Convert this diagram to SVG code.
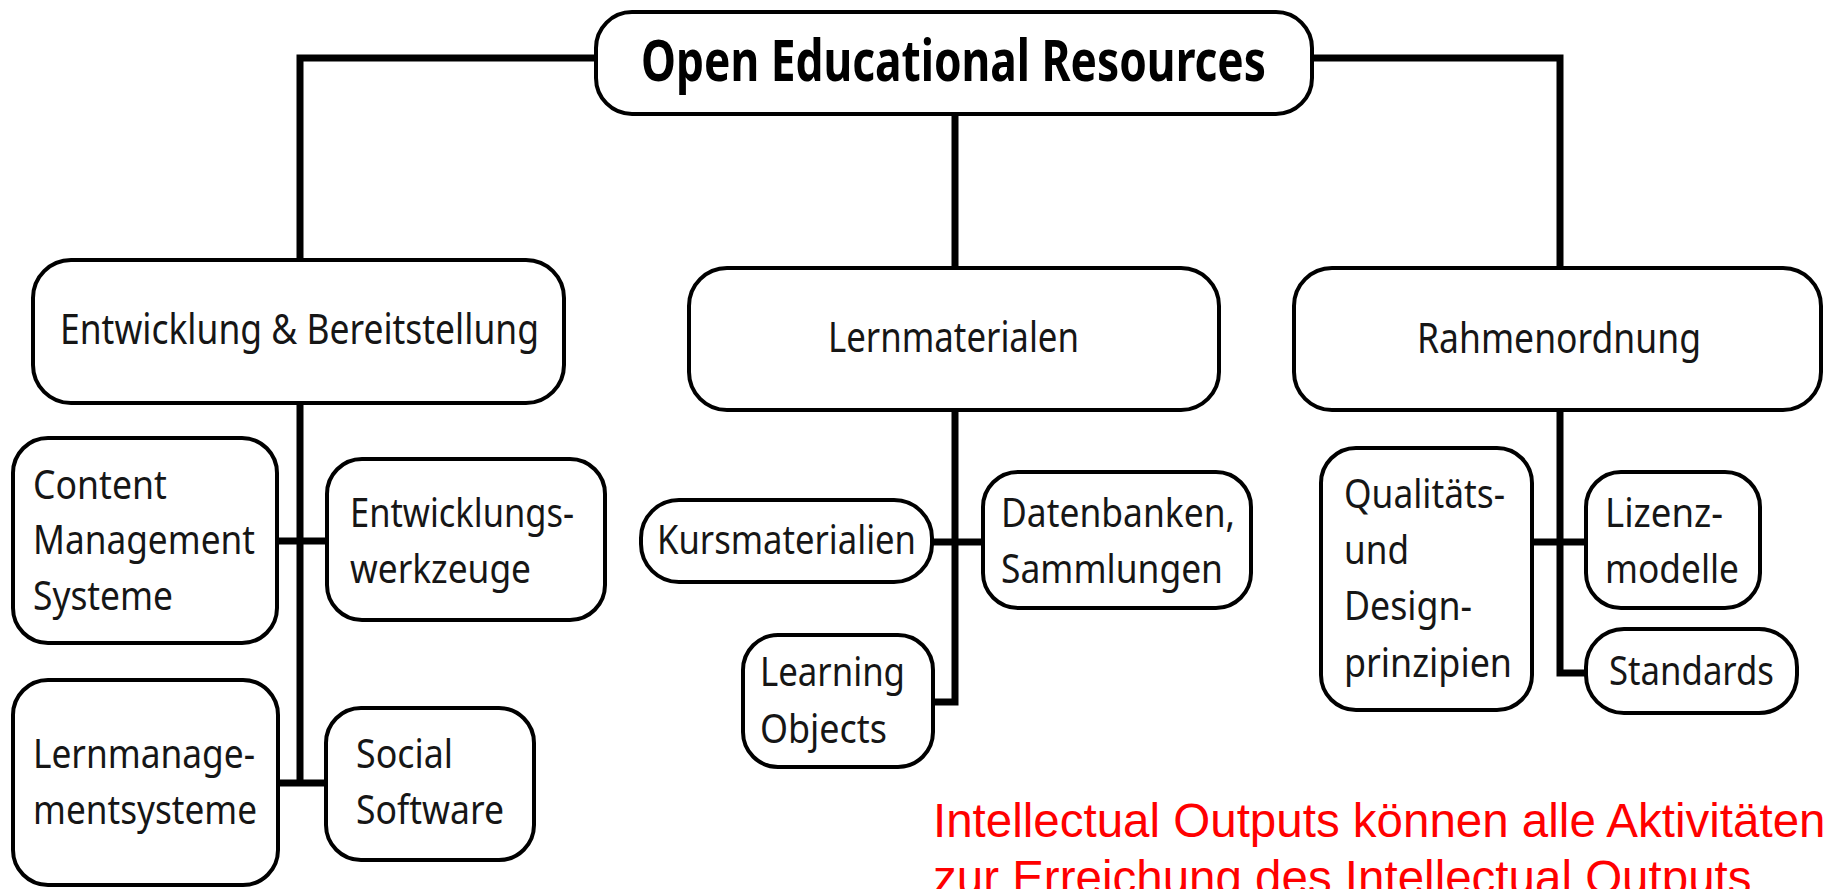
<svg xmlns="http://www.w3.org/2000/svg" width="1829" height="889" viewBox="0 0 1829 889">
<style>
.box{fill:#fff;stroke:#000;stroke-width:4}
.conn{fill:none;stroke:#000;stroke-width:7;stroke-linejoin:miter;stroke-linecap:butt}
.t{font-family:"Noto Sans","Open Sans","DejaVu Sans",sans-serif;font-size:40px;fill:#161616}
.t2{font-family:"Noto Sans","Open Sans","DejaVu Sans",sans-serif;font-size:42px;fill:#161616}
.root{font-family:"Noto Sans","Open Sans","DejaVu Sans",sans-serif;font-size:57px;font-weight:bold;fill:#000}
.red{font-family:"Liberation Sans",Arial,sans-serif;font-size:47.5px;fill:#ff0000}
</style>
<rect width="1829" height="889" fill="#fff"/>
<g id="connectors">
<path class="conn" d="M596 58H300V260"/>
<path class="conn" d="M1312 58H1560V268"/>
<path class="conn" d="M955 114V268"/>
<path class="conn" d="M300 403V783"/>
<path class="conn" d="M277 541H327"/>
<path class="conn" d="M277 783H326"/>
<path class="conn" d="M955 410V702H933"/>
<path class="conn" d="M932 542H983"/>
<path class="conn" d="M1560 410V673H1586"/>
<path class="conn" d="M1532 542H1586"/>
</g>
<g id="root">
<rect class="box" x="596" y="12" width="716" height="102" rx="36"/>
<text class="root" x="641" y="81" textLength="625" lengthAdjust="spacingAndGlyphs">Open Educational Resources</text>
</g>
<g id="entwicklung">
<rect class="box" x="33" y="260" width="531" height="143" rx="38"/>
<text class="t2" x="60" y="344" textLength="479" lengthAdjust="spacingAndGlyphs">Entwicklung &amp; Bereitstellung</text>
</g>
<g id="lernmaterialen">
<rect class="box" x="689" y="268" width="530" height="142" rx="38"/>
<text class="t2" x="828" y="352" textLength="251" lengthAdjust="spacingAndGlyphs">Lernmaterialen</text>
</g>
<g id="rahmenordnung">
<rect class="box" x="1294" y="268" width="527" height="142" rx="38"/>
<text class="t2" x="1417" y="353" textLength="284" lengthAdjust="spacingAndGlyphs">Rahmenordnung</text>
</g>
<g id="cms">
<rect class="box" x="13" y="438" width="264" height="205" rx="35"/>
<text class="t" x="33" y="499" textLength="134" lengthAdjust="spacingAndGlyphs">Content</text>
<text class="t" x="33" y="554" textLength="222" lengthAdjust="spacingAndGlyphs">Management</text>
<text class="t" x="33" y="610" textLength="140" lengthAdjust="spacingAndGlyphs">Systeme</text>
</g>
<g id="werkzeuge">
<rect class="box" x="327" y="459" width="278" height="161" rx="35"/>
<text class="t" x="350" y="527" textLength="224" lengthAdjust="spacingAndGlyphs">Entwicklungs-</text>
<text class="t" x="350" y="583" textLength="181" lengthAdjust="spacingAndGlyphs">werkzeuge</text>
</g>
<g id="lms">
<rect class="box" x="13" y="680" width="265" height="205" rx="35"/>
<text class="t" x="33" y="768" textLength="222" lengthAdjust="spacingAndGlyphs">Lernmanage-</text>
<text class="t" x="33" y="824" textLength="224" lengthAdjust="spacingAndGlyphs">mentsysteme</text>
</g>
<g id="social">
<rect class="box" x="326" y="708" width="208" height="152" rx="35"/>
<text class="t" x="356" y="768" textLength="97" lengthAdjust="spacingAndGlyphs">Social</text>
<text class="t" x="356" y="824" textLength="148" lengthAdjust="spacingAndGlyphs">Software</text>
</g>
<g id="kurs">
<rect class="box" x="641" y="500" width="291" height="82" rx="38"/>
<text class="t" x="657" y="554" textLength="259" lengthAdjust="spacingAndGlyphs">Kursmaterialien</text>
</g>
<g id="datenbanken">
<rect class="box" x="983" y="472" width="268" height="136" rx="35"/>
<text class="t" x="1001" y="527" textLength="234" lengthAdjust="spacingAndGlyphs">Datenbanken,</text>
<text class="t" x="1001" y="583" textLength="222" lengthAdjust="spacingAndGlyphs">Sammlungen</text>
</g>
<g id="learning">
<rect class="box" x="743" y="635" width="190" height="132" rx="35"/>
<text class="t" x="760" y="686" textLength="145" lengthAdjust="spacingAndGlyphs">Learning</text>
<text class="t" x="760" y="743" textLength="127" lengthAdjust="spacingAndGlyphs">Objects</text>
</g>
<g id="qualitaet">
<rect class="box" x="1321" y="448" width="211" height="262" rx="35"/>
<text class="t" x="1344" y="508" textLength="161" lengthAdjust="spacingAndGlyphs">Qualitäts-</text>
<text class="t" x="1344" y="564" textLength="65" lengthAdjust="spacingAndGlyphs">und</text>
<text class="t" x="1344" y="620" textLength="128" lengthAdjust="spacingAndGlyphs">Design-</text>
<text class="t" x="1344" y="677" textLength="168" lengthAdjust="spacingAndGlyphs">prinzipien</text>
</g>
<g id="lizenz">
<rect class="box" x="1586" y="472" width="174" height="136" rx="35"/>
<text class="t" x="1605" y="527" textLength="118" lengthAdjust="spacingAndGlyphs">Lizenz-</text>
<text class="t" x="1605" y="583" textLength="134" lengthAdjust="spacingAndGlyphs">modelle</text>
</g>
<g id="standards">
<rect class="box" x="1586" y="629" width="211" height="84" rx="38"/>
<text class="t" x="1609" y="685" textLength="165" lengthAdjust="spacingAndGlyphs">Standards</text>
</g>
<g id="note">
<text class="red" x="933" y="837">Intellectual Outputs können alle Aktivitäten</text>
<text class="red" x="933" y="894">zur Erreichung des Intellectual Outputs</text>
</g>
</svg>
